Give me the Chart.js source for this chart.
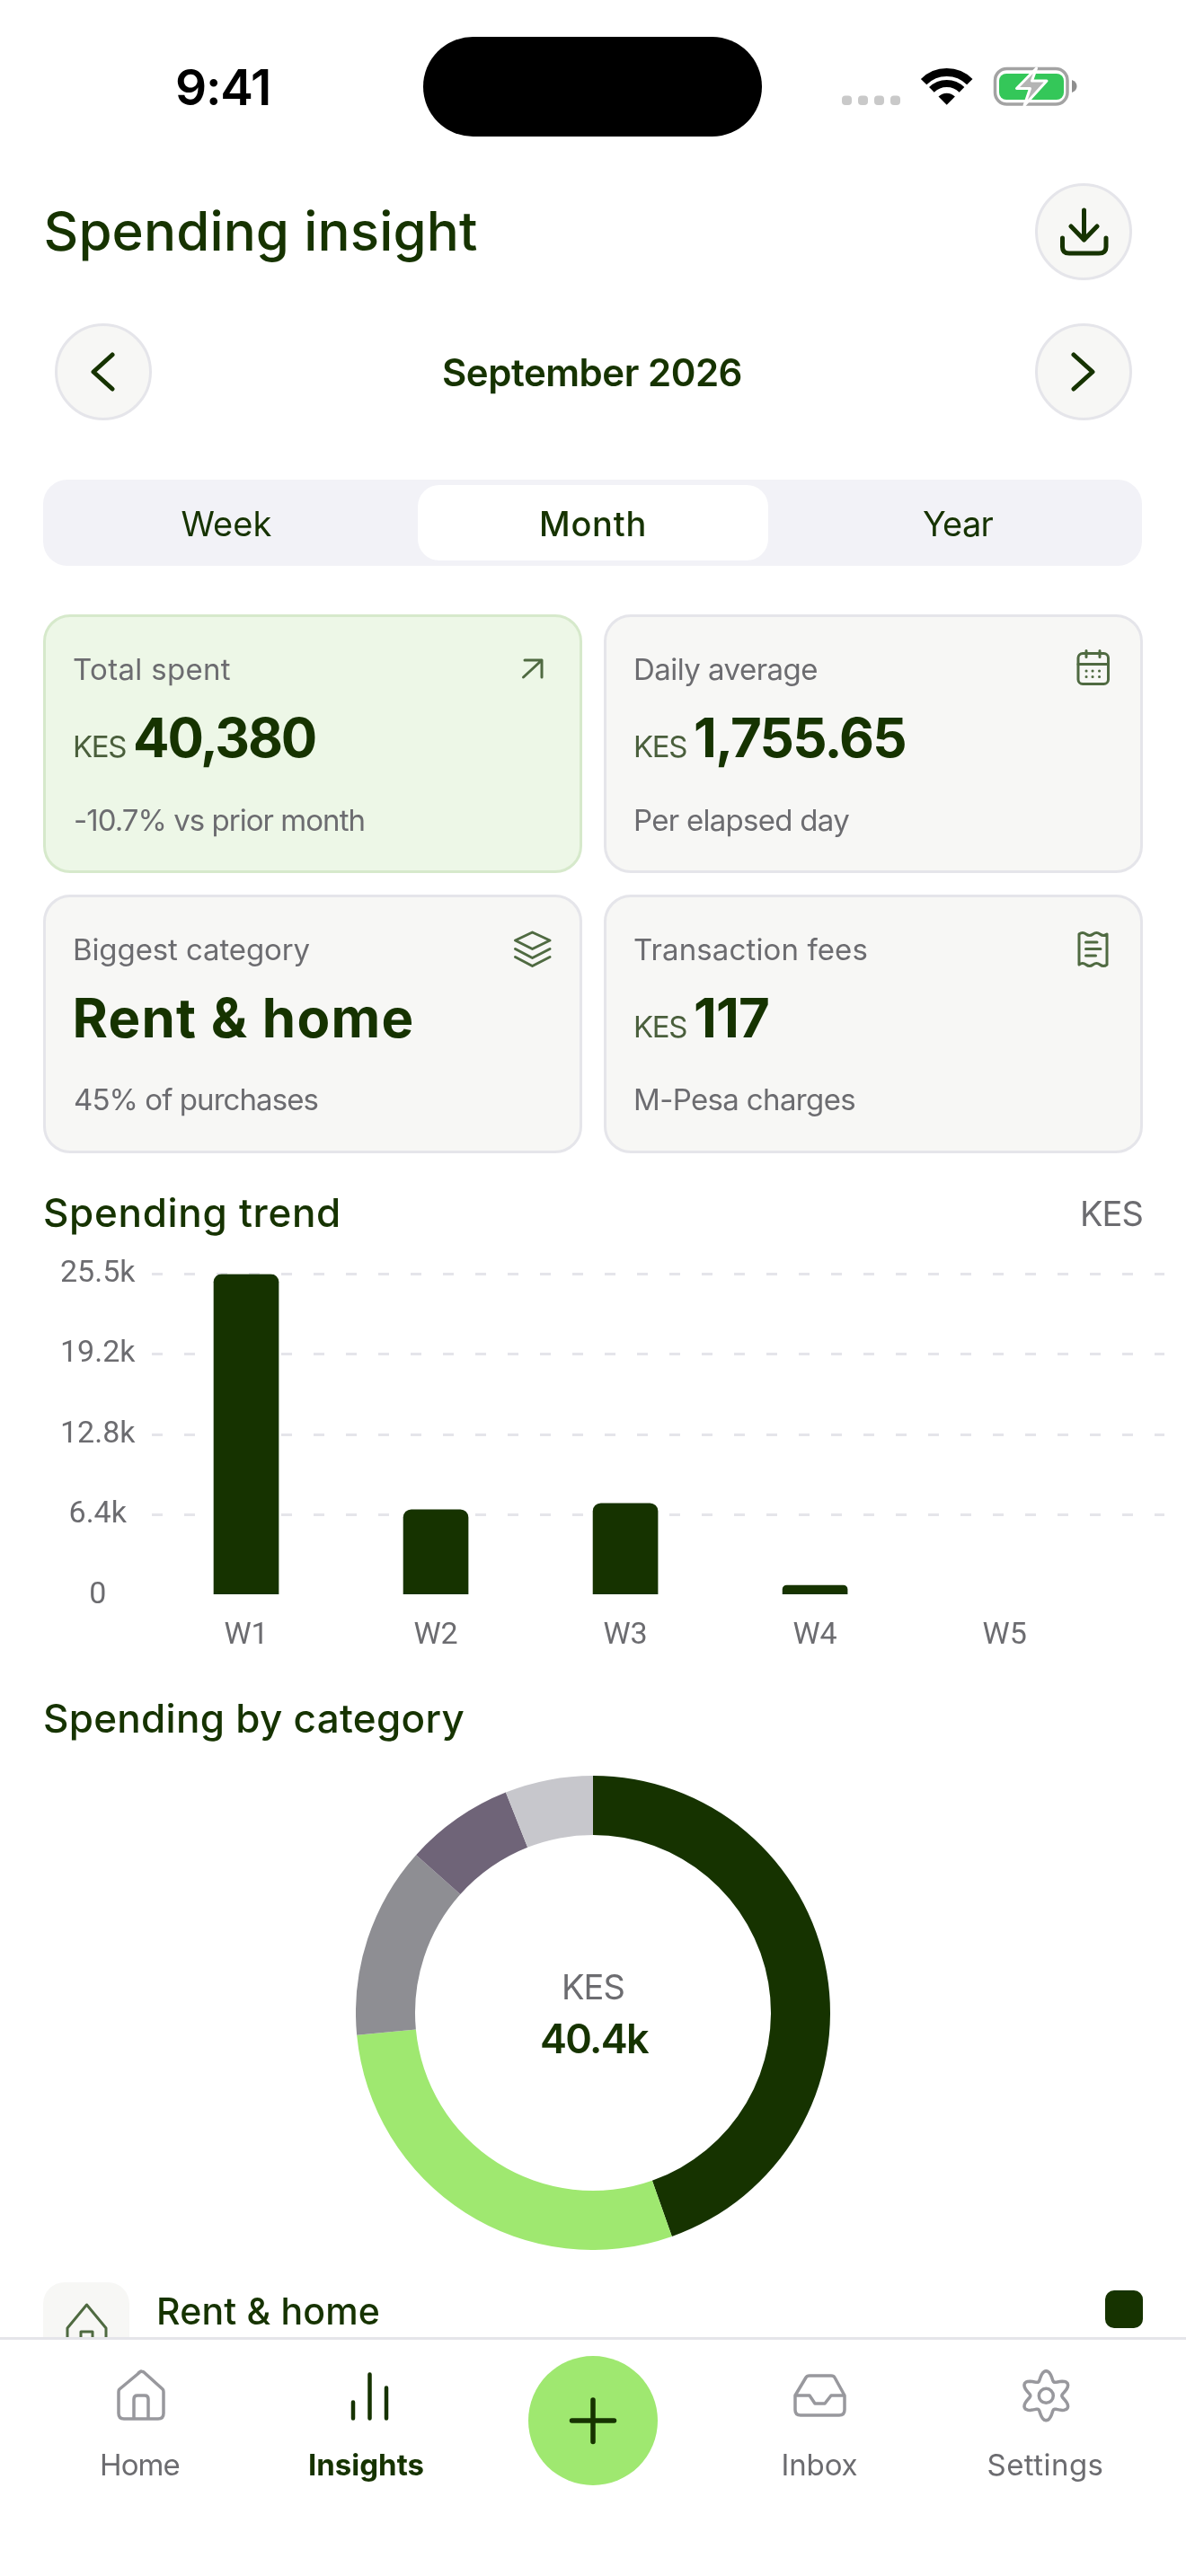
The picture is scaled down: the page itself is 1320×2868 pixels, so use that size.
<!DOCTYPE html>
<html><head><meta charset="utf-8">
<script src="https://cdn.jsdelivr.net/npm/chart.js@4"></script>
<style>
html,body{margin:0;padding:0;background:#fff;width:1320px;height:2868px;overflow:hidden;font-family:Inter,sans-serif}
#app{position:relative;width:1320px;height:2868px;overflow:hidden}
.b,.t,svg.i,canvas{position:absolute}
.t{white-space:nowrap;line-height:1}
svg.i{left:0;top:0;width:1320px;height:2868px;pointer-events:none}
</style></head><body><div id="app">
<div class="b" style="left:471px;top:41px;width:377px;height:111px;border-radius:56px;background:#000"></div>
<div class="b" style="left:1152px;top:204px;width:108px;height:108px;box-sizing:border-box;border-radius:50%;background:#F7F7F5;border:3px solid #E5E5EA"></div>
<div class="b" style="left:60.5px;top:360px;width:108px;height:108px;box-sizing:border-box;border-radius:50%;background:#F7F7F5;border:3px solid #E5E5EA"></div>
<div class="b" style="left:1152px;top:360px;width:108px;height:108px;box-sizing:border-box;border-radius:50%;background:#F7F7F5;border:3px solid #E5E5EA"></div>
<div class="b" style="left:48px;top:534px;width:1223px;height:96px;border-radius:27px;background:#F2F2F7"></div>
<div class="b" style="left:465px;top:540px;width:390px;height:84px;border-radius:24px;background:#fff"></div>
<div class="b" style="left:48px;top:684px;width:600px;height:288px;box-sizing:border-box;border-radius:30px;background:#EDF7E7;border:3px solid #D6E9CB"></div>
<div class="b" style="left:672px;top:684px;width:600px;height:288px;box-sizing:border-box;border-radius:30px;background:#F7F7F5;border:3px solid #E5E5EA"></div>
<div class="b" style="left:48px;top:996px;width:600px;height:288px;box-sizing:border-box;border-radius:30px;background:#F7F7F5;border:3px solid #E5E5EA"></div>
<div class="b" style="left:672px;top:996px;width:600px;height:288px;box-sizing:border-box;border-radius:30px;background:#F7F7F5;border:3px solid #E5E5EA"></div>
<canvas id="bars" width="1272" height="470" style="left:48px;top:1380px;width:1272px;height:470px"></canvas>
<canvas id="ring" width="528" height="528" style="left:396px;top:1977px;width:528px;height:528px"></canvas>
<div class="b" style="left:48px;top:2541px;width:96px;height:96px;border-radius:24px;background:#F7F7F5"></div>
<div class="b" style="left:1230px;top:2550px;width:42px;height:42px;border-radius:10px;background:#163300"></div>
<svg class="i" viewBox="0 0 1320 2868" fill="none" stroke-linecap="round" stroke-linejoin="round">
  <path d="M1053.7 116.7 L1044.5 107.5 A13 13 0 0 1 1062.9 107.5 Z" fill="#000"/>
  <path d="M1036.9 99.9 A23.7 23.7 0 0 1 1070.5 99.9" stroke="#000" stroke-width="8" stroke-linecap="butt"/>
  <path d="M1028.1 91.1 A36.2 36.2 0 0 1 1079.3 91.1" stroke="#000" stroke-width="9" stroke-linecap="butt"/>
  <g fill="#C9C9C9"><rect x="937" y="106.5" width="11" height="10.5" rx="4"/><rect x="955" y="106.5" width="11" height="10.5" rx="4"/><rect x="973" y="106.5" width="11" height="10.5" rx="4"/><rect x="991" y="106.5" width="11" height="10.5" rx="4"/></g>
  <rect x="1107.5" y="76.5" width="80.5" height="39.5" rx="13" stroke="#A3A3A3" stroke-width="3.5"/>
  <rect x="1112" y="82" width="72" height="29" rx="8" fill="#34C759"/>
  <path d="M1193 89 Q1198.5 91 1198.5 96 Q1198.5 101 1193 103 Z" fill="#8E8E8E"/>
  <path d="M1153.5 76 L1131.5 98.5 H1146.5 L1140 117.5 L1165 90 H1148.5 Z" fill="#B4B4B4" stroke="#fff" stroke-width="3"/>
  <g stroke="#163300" stroke-width="5">
    <path d="M1206.5 234 V267 M1192 252 L1206.5 267 L1221 252 M1182.5 265 V275 Q1182.5 282 1190 282 H1223 Q1231 282 1231 275 V265"/>
    <path d="M125 395 L104 414 L125 433 M1195 395 L1216 414 L1195 433"/>
  </g>
  <g stroke="#4F6A41" stroke-width="3">
    <path d="M582.5 754 L603 735 M584 735 H603 V754"/>
    <rect x="1200" y="727.5" width="33.5" height="34" rx="5"/><path d="M1209 724.5 V731.5 M1224 724.5 V731.5 M1200 739.5 H1233.5"/>
    <path d="M1209 747 h.1 M1216 747 h.1 M1223.5 747 h.1 M1209 753.5 h.1 M1216 753.5 h.1 M1223.5 753.5 h.1"/>
    <path d="M573.5 1047 L592.5 1038 L612 1047 L592.5 1056.5 Z M573.5 1056.5 L592.5 1066.5 L612 1056.5 M573.5 1065.5 L592.5 1075.5 L612 1065.5"/>
    <path d="M1201 1040 q3.9 -3 7.75 0 t7.75 0 t7.75 0 t7.75 0 V1074 q-3.9 3 -7.75 0 t-7.75 0 t-7.75 0 t-7.75 0 Z M1208.5 1049 H1221 M1208.5 1056.5 H1225 M1208.5 1064 H1219.5"/>
  </g>
  <path d="M75 2612 V2592 M75 2592 L96.5 2566 L118 2592 V2612 M90 2612 V2596 H103 V2612" stroke="#4F6A41" stroke-width="3"/>
</svg>
<div class="b" style="left:0;top:2602px;width:1320px;height:266px;background:#fff;border-top:3px solid #E5E5EA;box-sizing:border-box"></div>
<div class="b" style="left:588px;top:2622.5px;width:144px;height:144px;border-radius:50%;background:#9FE870"></div>
<svg class="i" viewBox="0 0 1320 2868" fill="none" stroke-linecap="round" stroke-linejoin="round">
  <g stroke="#98989D" stroke-width="3.5">
    <path d="M157 2640 L133 2660 Q132 2661 132 2663 V2687 Q132 2693 138 2693 H176 Q182 2693 182 2687 V2663 Q182 2661 181 2660 L160 2641 Q157 2639 154 2642 Z M149 2693 V2671 Q149 2667 153 2667 H161 Q165 2667 165 2671 V2693"/>
    <path d="M885 2667 L897 2647 Q898 2645 901 2645 H925 Q928 2645 929 2647 L940 2667 V2683 Q940 2689 934 2689 H891 Q885 2689 885 2683 Z M885 2667 H901 L907 2676 H918 L925 2667 H940"/>
    <circle cx="1164.3" cy="2667.3" r="8"/>
    <path id="gear"/>
  </g>
  <path d="M393 2674.5 V2692.5 M411.5 2643.5 V2692.5 M430 2658.5 V2692.5" stroke="#163300" stroke-width="4.5"/>
  <path d="M660 2672 V2718.5 M636.5 2695 H683.5" stroke="#163300" stroke-width="5.5"/>
</svg>
</div>
<script>
const weeks = ["W1", "W2", "W3", "W4", "W5"];
const weeklySpend = [25480, 6800, 7300, 800, 0];
const yTickValues = [0, 6375, 12750, 19125, 25500];
const yTickLabels = ["0", "6.4k", "12.8k", "19.2k", "25.5k"];
const categories = ["Rent & home", "Food & groceries", "Transport", "Bills", "Other"];
const categorySpend = [18010, 11670, 5290, 2990, 2420];
const categoryColors = ["#163300", "#9FE870", "#8E8E93", "#6F6478", "#C7C7CC"];

const app = document.getElementById('app');
const INK = '#163300', GRAY = '#6C6C70', KES = '#4A5F3C';
function T(text, x, base, size, weight, color, w) {
  const d = document.createElement('div');
  d.className = 't';
  d.textContent = text;
  d.style.cssText = `left:${x}px;top:${base - 0.864 * size}px;font-size:${size}px;font-weight:${weight};color:${color}`;
  app.appendChild(d);
  const m = d.getBoundingClientRect().width;
  d.style.letterSpacing = ((w - m) / text.length) + 'px';
  return d;
}
T('9:41', 195, 118, 55, 600, '#000', 106);
T('Spending insight', 48.5, 279, 60, 500, INK, 483);
T('September 2026', 492, 430.5, 42, 600, INK, 334);
T('Week', 201.5, 597, 38, 400, INK, 101);
T('Month', 600, 597, 38, 500, INK, 120);
T('Year', 1027, 597, 38, 400, INK, 78);
T('Total spent', 81, 757.5, 33, 400, GRAY, 176);
T('KES', 81, 843.5, 33, 400, KES, 59);
T('40,380', 148, 843, 60, 700, INK, 203);
T('-10.7% vs prior month', 82, 925.5, 33, 400, GRAY, 324);
T('Daily average', 705, 757.5, 33, 400, GRAY, 205);
T('KES', 705, 843.5, 33, 400, KES, 59);
T('1,755.65', 772, 843, 60, 700, INK, 236);
T('Per elapsed day', 705, 925.5, 33, 400, GRAY, 240);
T('Biggest category', 81, 1069.5, 33, 400, GRAY, 264);
T('Rent & home', 80.5, 1155, 60, 700, INK, 381);
T('45% of purchases', 82, 1237, 33, 400, GRAY, 272);
T('Transaction fees', 705, 1069.5, 33, 400, GRAY, 261);
T('KES', 705, 1155.5, 33, 400, KES, 59);
T('117', 772, 1155, 60, 700, INK, 84);
T('M-Pesa charges', 705, 1237, 33, 400, GRAY, 247);
T('Spending trend', 48, 1366, 44, 500, INK, 332);
T('KES', 1202, 1365, 38, 400, GRAY, 70);
T('Spending by category', 48, 1929, 44, 500, INK, 469);
T('KES', 625, 2226, 38, 400, GRAY, 70);
T('40.4k', 601, 2286, 45, 600, INK, 120);
T('Home', 111, 2757, 33, 400, GRAY, 89);
T('Insights', 343, 2757, 33, 700, INK, 129);
T('Inbox', 869.5, 2757, 33, 400, GRAY, 85);
T('Settings', 1098.5, 2757, 33, 400, GRAY, 130);

// first legend row sits under the tab bar: drawn below it
const legendRow = T(categories[0], 174, 2588, 41, 500, INK, 249);
legendRow.style.zIndex = 1;

let gearPath = '';
for (let a = 0; a <= 360; a += 4) {
  const th = a * Math.PI / 180, r = 22.5 + 5 * Math.cos(6 * th);
  gearPath += (a ? 'L' : 'M') + (1164.3 + r * Math.sin(th)).toFixed(2) + ' ' + (2667.3 - r * Math.cos(th)).toFixed(2);
}
document.getElementById('gear').setAttribute('d', gearPath + 'Z');

const tickFont = { family: 'Roboto', size: 34 };
new Chart(document.getElementById('bars'), {
  type: 'bar',
  data: { datasets: [{
    data: weeks.map((w, i) => ({ x: i + 1, y: weeklySpend[i] })),
    backgroundColor: c => c.raw && c.raw.y > 0 ? INK : 'rgba(0,0,0,0)',
    barThickness: 72, borderSkipped: 'bottom',
    borderRadius: { topLeft: 9, topRight: 9, bottomLeft: 0, bottomRight: 0 }
  }] },
  options: {
    responsive: false, animation: false, devicePixelRatio: 1,
    layout: { autoPadding: false, padding: { top: 0, right: 24, left: 0, bottom: 0 } },
    plugins: { legend: { display: false }, tooltip: { enabled: false } },
    scales: {
      x: {
        type: 'linear', offset: false, min: 0.5, max: 5.843,
        afterBuildTicks: s => { s.ticks = weeks.map((w, i) => ({ value: i + 1 })); },
        afterFit: s => { s.height = 73.8; },
        grid: { display: false, offset: false }, border: { display: false },
        ticks: { color: GRAY, font: tickFont, padding: 17, maxRotation: 0, autoSkip: false,
          callback: v => weeks[v - 1] }
      },
      y: {
        min: 0, max: 25500,
        afterBuildTicks: s => { s.ticks = yTickValues.map(v => ({ value: v })); },
        afterFit: s => { s.width = 120.5; },
        border: { display: false, dash: [12, 24] },
        grid: { lineWidth: 3, drawTicks: false,
          color: c => c.tick.value === 0 ? 'rgba(0,0,0,0)' : '#E5E5EA' },
        ticks: { color: GRAY, font: tickFont, padding: 18, crossAlign: 'center',
          callback: v => yTickLabels[yTickValues.indexOf(v)] }
      }
    }
  }
});
new Chart(document.getElementById('ring'), {
  type: 'doughnut',
  data: { labels: categories, datasets: [{ data: categorySpend, backgroundColor: categoryColors, borderWidth: 0 }] },
  options: {
    responsive: false, animation: false, devicePixelRatio: 1, cutout: '75%',
    plugins: { legend: { display: false }, tooltip: { enabled: false } }
  }
});
</script>
</body></html>
